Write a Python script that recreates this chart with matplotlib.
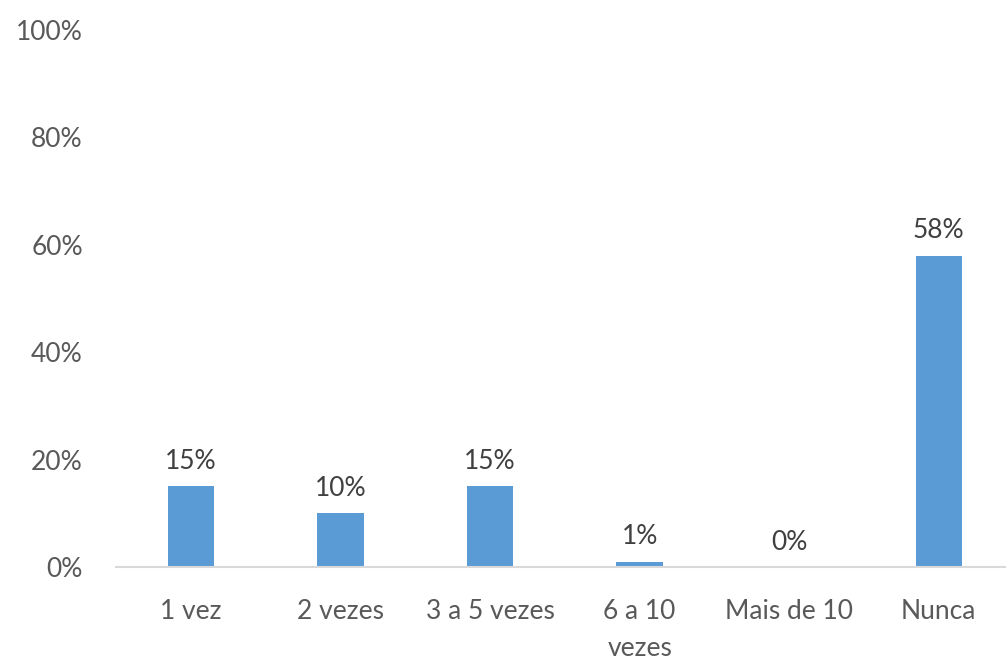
import matplotlib.pyplot as plt
from matplotlib.ticker import PercentFormatter

categories = ["1 vez", "2 vezes", "3 a 5 vezes", "6 a 10\nvezes", "Mais de 10", "Nunca"]
values = [15, 10, 15, 1, 0, 58]
labels = ["15%", "10%", "15%", "1%", "0%", "58%"]

plt.rcParams['font.family'] = ['Lato', 'DejaVu Sans']
grey = '#595959'

fig = plt.figure(figsize=(10.06, 6.61), dpi=100)
ax = fig.add_axes([0.1155, 0.1422, 0.892, 0.8124])

x = range(len(categories))
bars = ax.bar(x, values, width=0.31, color='#5B9BD5')

for b, lab in zip(bars, labels):
    ax.annotate(lab, (b.get_x() + b.get_width() / 2, b.get_height()),
                xytext=(0, 9), textcoords='offset points',
                ha='center', va='bottom', fontsize=19, color='#404040')

ax.set_xlim(-0.5, len(categories) - 0.5)
ax.set_ylim(0, 100)
ax.set_yticks([0, 20, 40, 60, 80, 100])
ax.yaxis.set_major_formatter(PercentFormatter(decimals=0))
ax.set_xticks(list(x))
ax.set_xticklabels(categories, linespacing=1.6)

for s in ['top', 'right', 'left']:
    ax.spines[s].set_visible(False)
ax.spines['bottom'].set_color('#D9D9D9')
ax.spines['bottom'].set_linewidth(1.5)
ax.tick_params(axis='both', length=0, labelsize=19, labelcolor=grey)
ax.tick_params(axis='x', pad=23)
ax.tick_params(axis='y', pad=24)

fig.savefig("out.png", dpi=100)
